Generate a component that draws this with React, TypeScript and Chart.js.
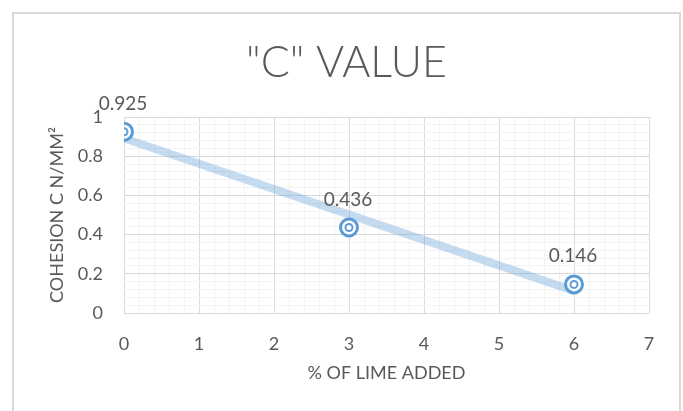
import React, { useEffect, useRef } from "react";
import { Chart, registerables } from "chart.js";

Chart.register(...registerables);

const limePercent = [0, 3, 6];
const cohesion = [0.925, 0.436, 0.146];
const xTickLabels = ["0", "1", "2", "3", "4", "5", "6", "7"];
const yTickLabels = ["0", "0.2", "0.4", "0.6", "0.8", "1"];
const titleText = '"C" VALUE';
const xTitle = "% OF LIME ADDED";
const yTitle = "COHESION C N/MM²";

const FONT = "Lato, 'Open Sans', sans-serif";
const TEXT = "#595959";
const BLUE = "#5b9bd5";

function linearFit(xs: number[], ys: number[]) {
  const n = xs.length;
  const mx = xs.reduce((a, b) => a + b, 0) / n;
  const my = ys.reduce((a, b) => a + b, 0) / n;
  let num = 0;
  let den = 0;
  for (let i = 0; i < n; i++) {
    num += (xs[i] - mx) * (ys[i] - my);
    den += (xs[i] - mx) * (xs[i] - mx);
  }
  const m = num / den;
  return { m, b: my - m * mx };
}

const isMultiple = (v: number, step: number) =>
  Math.abs(v / step - Math.round(v / step)) < 1e-6;

export default function App() {
  const ref = useRef<HTMLCanvasElement | null>(null);

  useEffect(() => {
    if (!ref.current) return;
    const points = limePercent.map((x, i) => ({ x, y: cohesion[i] }));
    const fit = linearFit(limePercent, cohesion);
    const xMin = Math.min(...limePercent);
    const xMax = Math.max(...limePercent);
    const trend = [
      { x: xMin, y: fit.b + fit.m * xMin },
      { x: xMax, y: fit.b + fit.m * xMax },
    ];

    const frame = {
      id: "frame",
      beforeDraw(chart: any) {
        const c = chart.ctx;
        c.save();
        c.fillStyle = "#ffffff";
        c.fillRect(0, 0, chart.width, chart.height);
        c.strokeStyle = "#d9d9d9";
        c.lineWidth = 2;
        c.strokeRect(13, 13, 667, 500);
        c.fillStyle = TEXT;
        c.font = `300 43px ${FONT}`;
        c.textAlign = "center";
        c.textBaseline = "alphabetic";
        c.fillText(titleText, 346.5, 77);
        c.restore();
      },
    };

    const labels = {
      id: "valueLabels",
      afterDatasetsDraw(chart: any) {
        const meta = chart.getDatasetMeta(1);
        const c = chart.ctx;
        c.save();
        c.fillStyle = TEXT;
        c.font = `19px ${FONT}`;
        c.textAlign = "center";
        c.textBaseline = "alphabetic";
        meta.data.forEach((el: any, i: number) => {
          c.fillText(String(cohesion[i]), el.x - 1, el.y - 22);
        });
        c.restore();
      },
    };

    const chart = new Chart(ref.current, {
      type: "scatter",
      data: {
        datasets: [
          {
            label: "Trend",
            data: trend,
            showLine: true,
            borderColor: "rgba(91,155,213,0.36)",
            borderWidth: 8,
            pointRadius: 0,
            borderCapStyle: "butt",
            order: 3,
          } as any,
          {
            label: "Outer",
            data: points,
            pointRadius: 8.5,
            pointBorderWidth: 3,
            pointBorderColor: BLUE,
            pointBackgroundColor: "rgba(255,255,255,0.85)",
            order: 2,
          },
          {
            label: "Inner",
            data: points,
            pointRadius: 3.5,
            pointBorderWidth: 2,
            pointBorderColor: BLUE,
            pointBackgroundColor: "#ffffff",
            order: 1,
          },
        ],
      },
      options: {
        animation: false,
        responsive: false,
        events: [],
        layout: { padding: { top: 117, right: 34, left: 0, bottom: 0 } },
        plugins: {
          legend: { display: false },
          tooltip: { enabled: false },
          title: { display: false },
        },
        scales: {
          x: {
            type: "linear",
            min: 0,
            max: 7,
            afterFit: (s: any) => {
              s.height = 98;
            },
            ticks: {
              stepSize: 0.2,
              autoSkip: false,
              maxTicksLimit: 1000,
              maxRotation: 0,
              padding: 20,
              color: TEXT,
              font: { family: FONT, size: 18 },
              callback: (v: any) =>
                isMultiple(Number(v), 1) ? xTickLabels[Math.round(Number(v))] : "",
            },
            grid: {
              drawTicks: false,
              color: (ctx: any) =>
                isMultiple(ctx.tick.value, 1) ? "#d9d9d9" : "#f2f2f2",
            },
            border: { display: false },
            title: {
              display: true,
              text: xTitle,
              color: TEXT,
              font: { family: FONT, size: 18 },
              padding: { top: 0, bottom: 27 },
            },
          },
          y: {
            type: "linear",
            min: 0,
            max: 1,
            afterFit: (s: any) => {
              s.width = 124;
            },
            ticks: {
              stepSize: 0.04,
              autoSkip: false,
              maxTicksLimit: 1000,
              padding: 21,
              color: TEXT,
              font: { family: FONT, size: 18 },
              callback: (v: any) =>
                isMultiple(Number(v), 0.2)
                  ? yTickLabels[Math.round(Number(v) / 0.2)]
                  : "",
            },
            grid: {
              drawTicks: false,
              color: (ctx: any) =>
                isMultiple(ctx.tick.value, 0.2) ? "#d9d9d9" : "#f2f2f2",
            },
            border: { display: false },
            title: {
              display: true,
              text: yTitle,
              color: TEXT,
              font: { family: FONT, size: 18 },
              padding: { top: 46, bottom: 0 },
            },
          },
        },
      },
      plugins: [frame, labels],
    });
    return () => chart.destroy();
  }, []);

  return (
    <div
      style={{
        position: "fixed",
        left: 0,
        top: 0,
        width: 683,
        height: 411,
        background: "#ffffff",
      }}
    >
      <canvas ref={ref} width={683} height={411} style={{ display: "block" }} />
    </div>
  );
}
